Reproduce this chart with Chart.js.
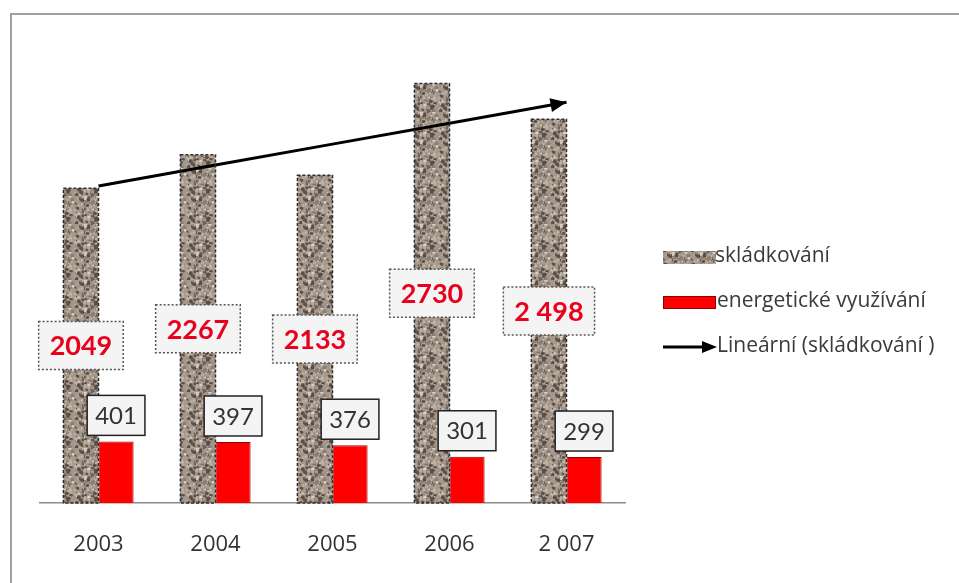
<!DOCTYPE html>
<html>
<head>
<meta charset="utf-8">
<script src="https://cdn.jsdelivr.net/npm/chart.js@4/dist/chart.umd.min.js"></script>
<style>
  html, body { margin: 0; padding: 0; background: #fff; }
  #wrap { width: 959px; height: 583px; }
</style>
</head>
<body>
<div id="wrap"><canvas id="graf" width="959" height="583"></canvas></div>
<script>
// data
var roky = ['2003', '2004', '2005', '2006', '2 007'];
var skladkovani = [2049, 2267, 2133, 2730, 2498];
var skladkovaniPopisky = ['2049', '2267', '2133', '2730', '2 498'];
var energetickeVyuzivani = [401, 397, 376, 301, 299];
var energetickePopisky = ['401', '397', '376', '301', '299'];
var legendaTexty = ['skládkování', 'energetické využívání', 'Lineární (skládkování )'];

// linear trend like excel does it (least squares over skladkovani)
var n = skladkovani.length;
var sx = 0, sy = 0, sxy = 0, sxx = 0;
skladkovani.forEach(function (v, i) {
    var x = i + 1;
    sx += x; sy += v; sxy += x * v; sxx += x * x;
});
var sklon = (n * sxy - sx * sy) / (n * sxx - sx * sx);
var posun = (sy - sklon * sx) / n;
var trend = skladkovani.map(function (v, i) {
    return posun + sklon * (i + 1);
});

// granite-like texture for the landfill bars
function granit() {
    var c = document.createElement('canvas');
    c.width = 28; c.height = 28;
    var g = c.getContext('2d');
    g.fillStyle = '#a3968a';
    g.fillRect(0, 0, 28, 28);
    var seed = 7;
    function rnd() { seed = (seed * 16807) % 2147483647; return seed / 2147483647; }
    var barvy = ['#d9d0c6', '#6e6157', '#8a7c70', '#c4b8ab', '#5a4e46', '#b8aa9c'];
    for (var i = 0; i < 120; i++) {
        g.fillStyle = barvy[Math.floor(rnd() * barvy.length)];
        g.beginPath();
        g.arc(rnd() * 28, rnd() * 28, 0.6 + rnd() * 1.4, 0, Math.PI * 2);
        g.fill();
    }
    return g.createPattern(c, 'repeat');
}
var vzor = granit();

function boxik(ctx, cx, cy, w, h, carkovane) {
    ctx.save();
    ctx.fillStyle = '#f4f4f4';
    ctx.fillRect(cx - w / 2, cy - h / 2, w, h);
    ctx.strokeStyle = carkovane ? '#555' : '#222';
    ctx.lineWidth = 1.5;
    ctx.setLineDash(carkovane ? [2, 2] : []);
    ctx.strokeRect(cx - w / 2, cy - h / 2, w, h);
    ctx.restore();
}

var doplnky = {
    id: 'doplnky',
    beforeDraw: function (chart) {
        var ctx = chart.ctx;
        ctx.save();
        ctx.fillStyle = '#fff';
        ctx.fillRect(0, 0, chart.width, chart.height);
        ctx.strokeStyle = '#a0a0a0';
        ctx.lineWidth = 2;
        ctx.beginPath();
        ctx.moveTo(11, chart.height);
        ctx.lineTo(11, 14);
        ctx.lineTo(chart.width, 14);
        ctx.stroke();
        ctx.restore();
    },
    afterDatasetsDraw: function (chart) {
        var ctx = chart.ctx;
        // dashed outline around textured bars
        var m0 = chart.getDatasetMeta(1);
        ctx.save();
        ctx.strokeStyle = '#2e2e2e';
        ctx.lineWidth = 1.5;
        ctx.setLineDash([3, 2]);
        m0.data.forEach(function (b) {
            ctx.strokeRect(b.x - b.width / 2, b.y, b.width, b.base - b.y);
        });
        ctx.restore();

        // arrow head on trend line
        var mt = chart.getDatasetMeta(0);
        var p1 = mt.data[mt.data.length - 2], p2 = mt.data[mt.data.length - 1];
        var uhel = Math.atan2(p2.y - p1.y, p2.x - p1.x);
        ctx.save();
        ctx.fillStyle = '#000';
        ctx.translate(p2.x, p2.y);
        ctx.rotate(uhel);
        ctx.beginPath();
        ctx.moveTo(0, 0);
        ctx.lineTo(-16, -7);
        ctx.lineTo(-16, 7);
        ctx.closePath();
        ctx.fill();
        ctx.restore();

        // value labels
        ctx.save();
        ctx.textAlign = 'center';
        ctx.textBaseline = 'middle';
        ctx.font = 'bold 27px Lato';
        m0.data.forEach(function (b, i) {
            var t = skladkovaniPopisky[i];
            var w = ctx.measureText(t).width + 22;
            var cy = (b.y + b.base) / 2;
            boxik(ctx, b.x, cy, w, 48, true);
            ctx.fillStyle = '#e8001c';
            ctx.fillText(t, b.x, cy + 1);
        });
        var m1 = chart.getDatasetMeta(2);
        ctx.font = '24px Lato';
        m1.data.forEach(function (b, i) {
            var t = energetickePopisky[i];
            var w = ctx.measureText(t).width + 16;
            var cy = b.y - 6 - 20;
            boxik(ctx, b.x, cy, w, 40, false);
            ctx.fillStyle = '#333';
            ctx.fillText(t, b.x, cy + 1);
        });
        ctx.restore();

        // legend
        ctx.save();
        ctx.font = '21px "Open Sans"';
        ctx.textBaseline = 'middle';
        ctx.fillStyle = vzor;
        ctx.fillRect(663, 251, 53, 13);
        ctx.fillStyle = '#ff0000';
        ctx.fillRect(663, 296, 53, 13);
        ctx.strokeStyle = '#8a0000';
        ctx.lineWidth = 1;
        ctx.strokeRect(663.5, 296.5, 52, 12);
        ctx.strokeStyle = '#000';
        ctx.lineWidth = 3;
        ctx.beginPath();
        ctx.moveTo(663, 347);
        ctx.lineTo(704, 347);
        ctx.stroke();
        ctx.fillStyle = '#000';
        ctx.beginPath();
        ctx.moveTo(717, 347);
        ctx.lineTo(702, 341);
        ctx.lineTo(702, 353);
        ctx.closePath();
        ctx.fill();
        ctx.fillStyle = '#3a3a3a';
        ctx.fillText(legendaTexty[0], 715, 256);
        ctx.fillText(legendaTexty[1], 717, 301);
        ctx.fillText(legendaTexty[2], 717, 346);
        ctx.restore();
    }
};

var ctx = document.getElementById('graf').getContext('2d');
var graf = new Chart(ctx, {
    type: 'bar',
    data: {
        labels: roky,
        datasets: [
            {
                type: 'line',
                label: legendaTexty[2],
                data: trend,
                borderColor: '#000',
                borderWidth: 3,
                pointRadius: 0,
                order: 0
            },
            {
                label: legendaTexty[0],
                data: skladkovani,
                backgroundColor: vzor,
                borderWidth: 0,
                order: 1
            },
            {
                label: legendaTexty[1],
                data: energetickeVyuzivani,
                backgroundColor: '#ff0000',
                borderColor: '#9a0000',
                borderWidth: 1,
                order: 2
            }
        ]
    },
    options: {
        responsive: false,
        animation: false,
        events: [],
        layout: { padding: { left: 40, right: 334, top: 42, bottom: 25 } },
        categoryPercentage: 0.6,
        barPercentage: 1.0,
        plugins: {
            legend: { display: false },
            tooltip: { enabled: false }
        },
        scales: {
            x: {
                grid: { display: false, drawTicks: false },
                border: { display: true, color: '#8c8c8c', width: 1.5 },
                ticks: { color: '#333', font: { family: 'Open Sans', size: 22 }, padding: 29 },
                afterFit: function (scale) { scale.height = 55; }
            },
            y: {
                display: false,
                min: 0,
                max: 3000
            }
        }
    },
    plugins: [doplnky]
});
</script>
</body>
</html>
